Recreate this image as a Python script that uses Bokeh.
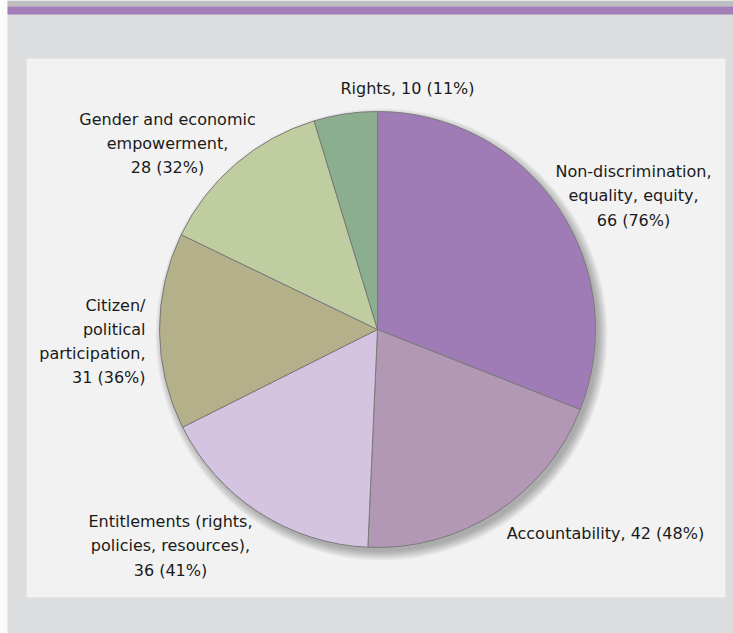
import math
from bokeh.plotting import figure
from bokeh.models import Range1d
from bokeh.core.properties import value
from bokeh.embed import file_html
from bokeh.resources import INLINE

# ---- data ----
categories = [
    "Non-discrimination, equality, equity",
    "Accountability",
    "Entitlements (rights, policies, resources)",
    "Citizen/ political participation",
    "Gender and economic empowerment",
    "Rights",
]
counts = [66, 42, 36, 31, 28, 10]
percents = [76, 48, 41, 36, 32, 11]
colors = ["#a07cb7", "#b398b6", "#d4c4e1", "#b3b08a", "#c0cda0", "#8aae8e"]
label_names = [
    "Non-discrimination,\nequality, equity,",
    "Accountability,",
    "Entitlements (rights,\npolicies, resources),",
    "Citizen/\npolitical\nparticipation,",
    "Gender and economic\nempowerment,",
    "Rights,",
]
label_joiners = ["\n", " ", "\n", "\n", "\n", " "]

W, H = 733, 633


def X(rx):
    return rx


def Y(ry):
    return H - ry


p = figure(width=W, height=H, output_backend="svg", toolbar_location=None,
           x_range=Range1d(0, W), y_range=Range1d(0, H),
           min_border=0, background_fill_color="#fbfbfb",
           border_fill_color="#fbfbfb", outline_line_color=None)
p.axis.visible = False
p.grid.visible = False

# page background, top bands and panel
p.quad(left=[X(7)], right=[X(733)], top=[Y(0)], bottom=[Y(633)],
       fill_color="#dcdddf", line_color=None)
p.quad(left=[X(7)], right=[X(733)], top=[Y(0)], bottom=[Y(6)],
       fill_color="#bdbdbf", line_color=None)
p.quad(left=[X(7)], right=[X(733)], top=[Y(6)], bottom=[Y(14)],
       fill_color="#a37fb9", line_color=None)
p.quad(left=[X(26)], right=[X(725)], top=[Y(58)], bottom=[Y(597)],
       fill_color="#f2f2f2", line_color=None)

cx, cy, r = X(377), Y(329), 218

# soft shadow toward the lower right
for i in range(10):
    p.circle(x=[cx + 4], y=[cy - 5], radius=r + 8 - i,
             fill_color="black", fill_alpha=0.03, line_color=None)

total = sum(counts)
starts, ends = [], []
cum = 0
for c in counts:
    starts.append(math.pi / 2 - 2 * math.pi * cum / total)
    cum += c
    ends.append(math.pi / 2 - 2 * math.pi * cum / total)

p.wedge(x=cx, y=cy, radius=r, start_angle=starts, end_angle=ends,
        direction="clock", fill_color=colors, line_color="#7a7a7a",
        line_width=1)

labels = [f"{n}{j}{c} ({pc}%)" for n, j, c, pc in
          zip(label_names, label_joiners, counts, percents)]

# label anchors (layout)
lx = [633, 605, 170, 145, 167, 407]
ly = [195.5, 533, 545.5, 341, 143, 88]
aligns = ["center", "center", "center", "right", "center", "center"]

for t, x, y, a in zip(labels, lx, ly, aligns):
    p.text(x=[X(x)], y=[Y(y)], text=[t], text_align=a,
           text_baseline="middle", text_font=value("DejaVu Sans"),
           text_font_size="16px", text_color="#1a1a1a",
           text_line_height=1.28)

open("out.html", "w").write(file_html(p, INLINE))
